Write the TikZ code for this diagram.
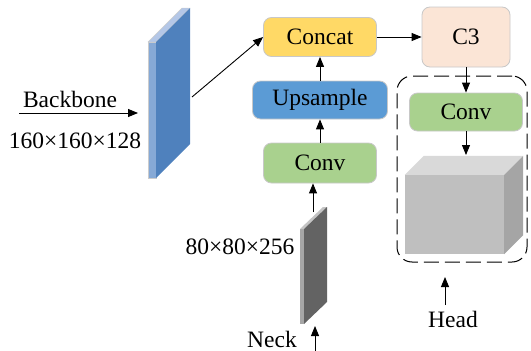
\documentclass[tikz,border=0pt]{standalone}
\usepackage{fontspec}
\setmainfont{Liberation Serif}
\newfontfamily\labelfont{Liberation Serif}
\usetikzlibrary{arrows.meta,calc}
\definecolor{concatfill}{HTML}{FFD966}
\definecolor{cthreefill}{HTML}{FBE5D6}
\definecolor{upfill}{HTML}{5B9BD5}
\definecolor{convfill}{HTML}{A9D18E}
\definecolor{boxedge}{HTML}{C8C8C8}
\definecolor{bluestrip}{HTML}{86A9D6}
\definecolor{bluetop}{HTML}{B4C7E7}
\definecolor{blueface}{HTML}{4F81BD}
\definecolor{graystrip}{HTML}{A6A6A6}
\definecolor{graytop}{HTML}{C4C4C4}
\definecolor{grayface}{HTML}{636363}
\definecolor{cubefront}{HTML}{BFBFBF}
\definecolor{cubetop}{HTML}{D9D9D9}
\definecolor{cubeside}{HTML}{A5A5A5}
\begin{document}
\begin{tikzpicture}[x=1pt,y=-1pt,
  font=\labelfont\fontsize{23.5}{28}\selectfont,
  box/.style={draw=boxedge, rounded corners=8pt, line width=0.8pt, inner sep=0pt},
  arr/.style={-{Triangle[length=10pt,width=8pt]}, line width=0.9pt},
  slabedge/.style={draw=white!80!black, line width=0.4pt}]
\useasboundingbox (0,0) rectangle (531,351);

% input feature map from the backbone
\coordinate (bbstart) at (19,113);
\coordinate (bbend) at (138,113);
\draw[arr] (bbstart) -- (bbend);
\node (bblabel) at (70,99) {Backbone};
\node (bbsize) at (75,141) {160×160×128};

% blue slab
\fill[bluestrip, slabedge] (148,42) rectangle (156,178);
\fill[bluetop, slabedge] (148,42) -- (182,8) -- (190,8) -- (156,42) -- cycle;
\fill[blueface] (156,42) -- (190,8) -- (190,144) -- (156,178) -- cycle;
\coordinate (blueout) at (192,97);

% neck input slab
\fill[graystrip] (300,229) rectangle (304,324);
\fill[graytop] (300,229) -- (323,207) -- (327,207) -- (304,229) -- cycle;
\fill[grayface] (304,229) -- (327,207) -- (327,302) -- (304,324) -- cycle;
\coordinate (grayout) at (313,212);
\node (graysize) at (240,247) {80×80×256};

% blocks
\node[box, fill=concatfill, minimum width=113pt, minimum height=39pt] (concat) at (320,37) {Concat};
\node[box, fill=cthreefill, minimum width=88pt, minimum height=60pt] (cthree) at (466,37) {C3};
\node[box, fill=upfill, minimum width=135pt, minimum height=38pt] (up) at (320,100) {Upsample};
\node[box, fill=convfill, minimum width=113pt, minimum height=40pt] (convA) at (320,163) {Conv};
\node[box, fill=convfill, minimum width=113pt, minimum height=38pt] (convB) at (466,112) {Conv};

% head region
\node[draw, dash pattern=on 15pt off 6pt, line width=1pt, rounded corners=15pt,
      minimum width=130pt, minimum height=186pt, inner sep=0pt] (headbox) at (462,169) {};
\node[fill=cubefront, minimum width=99pt, minimum height=79pt, inner sep=0pt] (cube) at (454.5,214.5) {};
\fill[cubetop] (cube.north west) -- ++(19,-19) -- ($(cube.north east)+(19,-19)$) -- (cube.north east) -- cycle;
\fill[cubeside] (cube.north east) -- ++(19,-19) -- ($(cube.south east)+(19,-19)$) -- (cube.south east) -- cycle;
\coordinate (cubein) at (466,155);

% connectors
\draw[arr] (blueout) -- (concat.west);
\draw[arr] (concat.east) -- (cthree.west);
\draw[arr] (cthree.south) -- (convB.north);
\draw[arr] (convB.south) -- (cubein);
\draw[arr] (up.north) -- (concat.south);
\draw[arr] (convA.north) -- (up.south);
\draw[arr] (grayout) -- (grayout |- convA.south);

% labels below
\node (head) at (453,319) {Head};
\coordinate (headtail) at (445,305);
\coordinate (headtip) at (445,277);
\draw[arr] (headtail) -- (headtip);
\node (neck) at (272,339) {Neck};
\coordinate (necktail) at (315,353);
\coordinate (necktip) at (315,326);
\draw[arr] (necktail) -- (necktip);
\end{tikzpicture}
\end{document}
